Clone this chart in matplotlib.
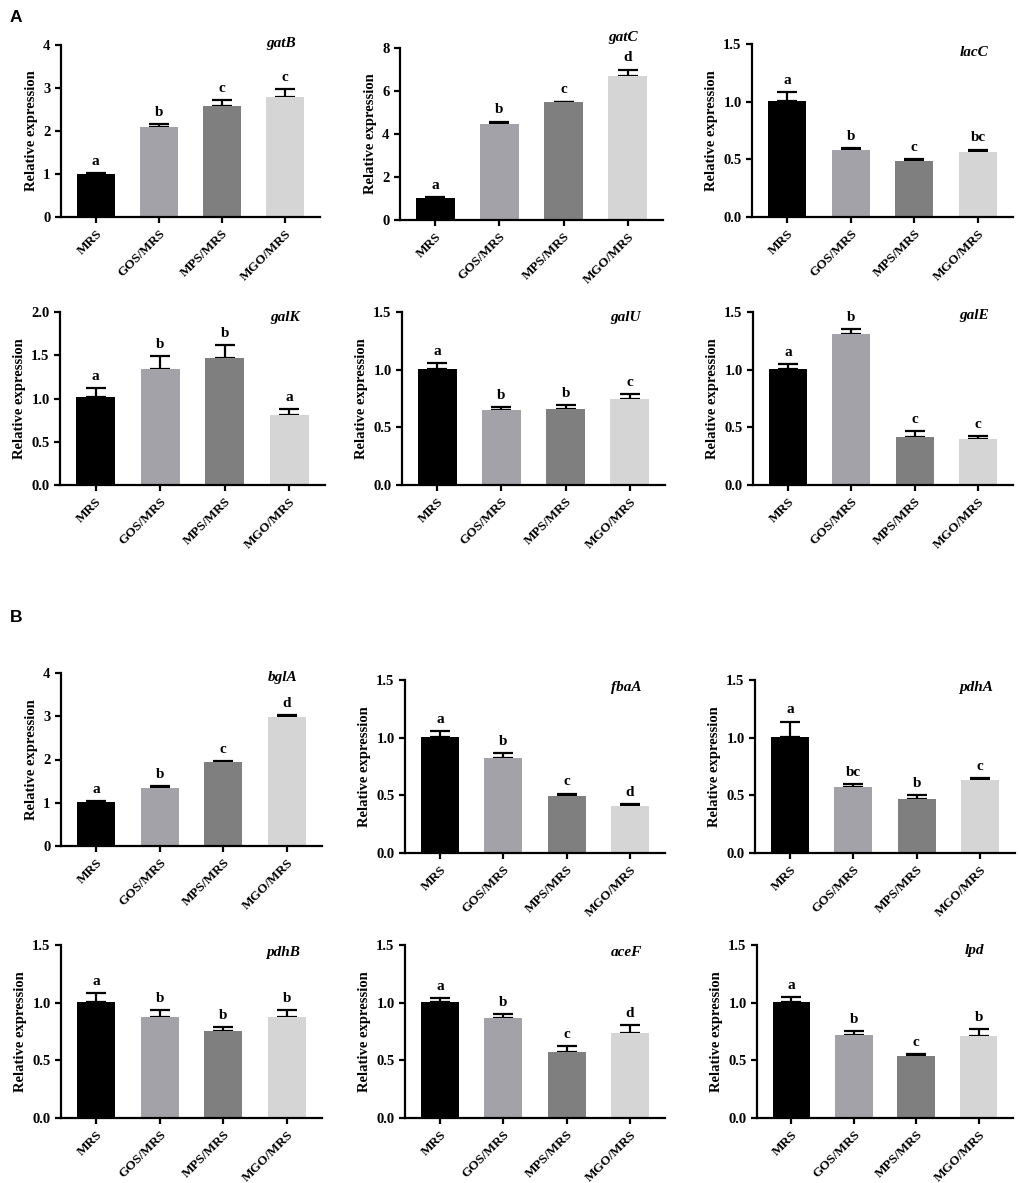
import numpy as np
import matplotlib.pyplot as plt

W, H = 1020, 1183

groups = ['MRS', 'GOS/MRS', 'MPS/MRS', 'MGO/MRS']
colors = ['#000000', '#a2a2a8', '#7f7f7f', '#d5d5d5']

genes = ['gatB', 'gatC', 'lacC', 'galK', 'galU', 'galE',
         'bglA', 'fbaA', 'pdhA', 'pdhB', 'aceF', 'lpd']

means = [
    [1.00, 2.10, 2.57, 2.80],
    [1.03, 4.45, 5.48, 6.72],
    [1.01, 0.58, 0.485, 0.565],
    [1.02, 1.34, 1.47, 0.81],
    [1.005, 0.65, 0.66, 0.75],
    [1.005, 1.305, 0.42, 0.40],
    [1.02, 1.33, 1.94, 2.98],
    [1.01, 0.82, 0.495, 0.41],
    [1.01, 0.575, 0.465, 0.63],
    [1.01, 0.88, 0.755, 0.88],
    [1.01, 0.87, 0.57, 0.74],
    [1.01, 0.72, 0.54, 0.71],
]

errs = [
    [0.02, 0.07, 0.15, 0.18],
    [0.03, 0.13, 0.03, 0.28],
    [0.07, 0.015, 0.02, 0.02],
    [0.10, 0.15, 0.15, 0.07],
    [0.055, 0.025, 0.035, 0.04],
    [0.04, 0.045, 0.045, 0.025],
    [0.015, 0.06, 0.03, 0.04],
    [0.05, 0.045, 0.02, 0.012],
    [0.13, 0.025, 0.035, 0.02],
    [0.075, 0.055, 0.035, 0.055],
    [0.03, 0.03, 0.05, 0.065],
    [0.04, 0.035, 0.015, 0.06],
]

letters = [
    ['a', 'b', 'c', 'c'],
    ['a', 'b', 'c', 'd'],
    ['a', 'b', 'c', 'bc'],
    ['a', 'b', 'b', 'a'],
    ['a', 'b', 'b', 'c'],
    ['a', 'b', 'c', 'c'],
    ['a', 'b', 'c', 'd'],
    ['a', 'b', 'c', 'd'],
    ['a', 'bc', 'b', 'c'],
    ['a', 'b', 'b', 'b'],
    ['a', 'b', 'c', 'd'],
    ['a', 'b', 'c', 'b'],
]

ymax = [4, 8, 1.5, 2.0, 1.5, 1.5, 4, 1.5, 1.5, 1.5, 1.5, 1.5]
ystep = [1, 2, 0.5, 0.5, 0.5, 0.5, 1, 0.5, 0.5, 0.5, 0.5, 0.5]

# axes boxes in pixels: left, top(ymax), right, bottom(zero)
boxes = [
    (61, 45, 320, 217), (400, 48, 663, 220), (752, 44, 1013, 217),
    (60, 312, 325, 485), (402, 312, 665, 485), (753, 312, 1013, 485),
    (61, 673, 322, 846), (405, 680, 665, 853), (755, 680, 1015, 853),
    (61, 945, 322, 1118), (405, 945, 665, 1118), (757, 945, 1013, 1118),
]
# gene name height as axes fraction
gene_y = [1.01, 1.06, 0.95, 0.97, 0.97, 0.98, 0.975, 0.955, 0.955, 0.955, 0.955, 0.97]

plt.rcParams['font.family'] = 'Liberation Serif'

fig = plt.figure(figsize=(W / 100, H / 100), dpi=100)
fig.patch.set_facecolor('white')

x = np.arange(len(groups))
for i, gene in enumerate(genes):
    l, t, r, b = boxes[i]
    ax = fig.add_axes([l / W, 1 - b / H, (r - l) / W, (b - t) / H])
    ax.bar(x, means[i], width=0.6, color=colors, zorder=2)
    ax.errorbar(x, means[i], yerr=[np.zeros(4), errs[i]], fmt='none',
                ecolor='black', elinewidth=1.6, capsize=7.5, capthick=1.6, zorder=1)
    off = ymax[i] * 0.03
    for xi, m, e, lt in zip(x, means[i], errs[i], letters[i]):
        ax.text(xi, m + e + off, lt, ha='center', va='bottom',
                fontsize=11, fontweight='bold')
    ax.text(0.85, gene_y[i], gene, transform=ax.transAxes, ha='center', va='center',
            fontsize=11, fontweight='bold', fontstyle='italic')
    ax.set_xlim(-0.55, 3.55)
    ax.set_ylim(0, ymax[i])
    ax.set_yticks(np.arange(0, ymax[i] + 1e-9, ystep[i]))
    if ystep[i] < 1:
        ax.set_yticklabels(['%.1f' % v for v in ax.get_yticks()])
    ax.set_xticks(x)
    ax.set_xticklabels(groups, rotation=45, ha='right', rotation_mode='anchor')
    for s in ['top', 'right']:
        ax.spines[s].set_visible(False)
    for s in ['left', 'bottom']:
        ax.spines[s].set_linewidth(1.6)
    ax.tick_params(axis='both', width=1.6, length=4)
    ax.tick_params(axis='x', labelsize=9.5)
    ax.tick_params(axis='y', labelsize=10.5)
    for lab in ax.get_xticklabels() + ax.get_yticklabels():
        lab.set_fontweight('bold')
    ax.set_ylabel('Relative expression', fontsize=10.5, fontweight='bold', labelpad=4)

fig.text(10 / W, 1 - 18 / H, 'A', family='Liberation Sans', fontsize=12.5,
         fontweight='bold', va='center')
fig.text(10 / W, 1 - 618 / H, 'B', family='Liberation Sans', fontsize=12.5,
         fontweight='bold', va='center')

fig.savefig('out.png', dpi=100, facecolor='white')
